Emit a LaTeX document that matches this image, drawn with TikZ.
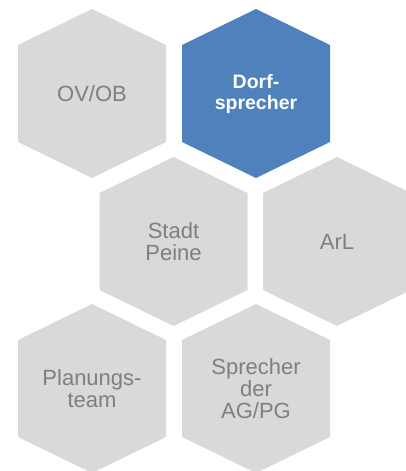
\documentclass[tikz,border=0pt]{standalone}
\usepackage{fontspec}
\setmainfont{Liberation Sans}
\definecolor{hexgray}{HTML}{D9D9D9}
\definecolor{hextextgray}{HTML}{7F7F7F}
\definecolor{hexblue}{HTML}{4F81BD}

% one cell of the honeycomb: fill colour, centre x, centre y
\newcommand{\hexcell}[3]{%
  \fill[#1] (#2,#3) ++(0,-84.5) -- ++(74,36) -- ++(0,97) -- ++(-74,36)
    -- ++(-74,-36) -- ++(0,-97) -- cycle;
}

\begin{document}
\begin{tikzpicture}[x=1pt,y=-1pt,
    celltext/.style={align=center,text=hextextgray,inner sep=0pt,
      font=\fontsize{22}{22}\selectfont},
    celltextbold/.style={align=center,text=white,inner sep=0pt,
      font=\fontsize{19.5}{21}\selectfont\bfseries}]
  \useasboundingbox (0,0) rectangle (406,471);

  \hexcell{hexgray}{92}{93.5}
  \hexcell{hexblue}{256}{93.5}
  \hexcell{hexgray}{173.5}{241.5}
  \hexcell{hexgray}{337}{241.5}
  \hexcell{hexgray}{92}{388.5}
  \hexcell{hexgray}{256}{388.5}

  \node[celltext] (ovob) at (92,93.5) {OV/OB};
  \node[celltextbold] (dorf) at (256,93.5) {Dorf-\\sprecher};
  \node[celltext] (peine) at (173.5,241.5) {Stadt\\Peine};
  \node[celltext] (arl) at (337,241.5) {ArL};
  \node[celltext] (team) at (92,388.5) {Planungs-\\team};
  \node[celltext] (agpg) at (256,388.5) {Sprecher\\der\\AG/PG};
\end{tikzpicture}
\end{document}
